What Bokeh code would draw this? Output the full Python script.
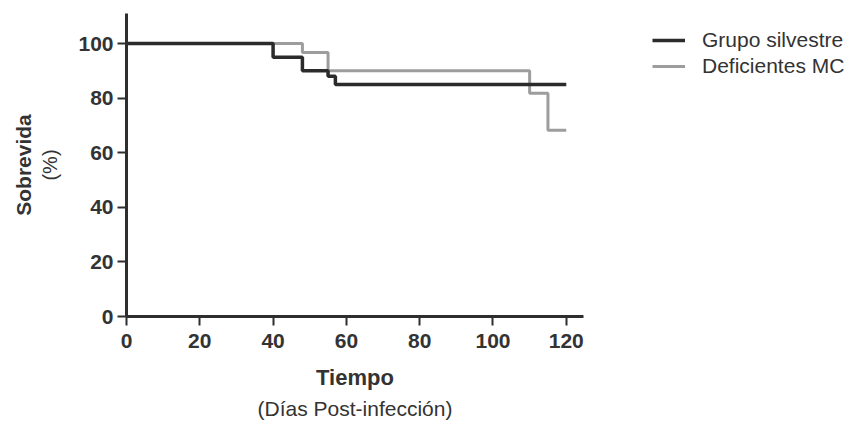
from bokeh.embed import file_html
from bokeh.layouts import row
from bokeh.models import FixedTicker, Legend, LegendItem, LinearAxis, Range1d
from bokeh.plotting import figure
from bokeh.resources import INLINE

# Kaplan-Meier survival (%) by day post-infection
silvestre_dias = [0, 40, 48, 55, 57, 120]
silvestre_sobrevida = [100, 95, 90, 88, 85, 85]

deficientes_dias = [0, 48, 55, 110, 115, 120]
deficientes_sobrevida = [100, 96.7, 90, 81.8, 68.2, 68.2]

x_ticks = [0, 20, 40, 60, 80, 100, 120]
y_ticks = [0, 20, 40, 60, 80, 100]

series_names = ["Grupo silvestre", "Deficientes MC"]
x_title = "Tiempo"
x_subtitle = "(Días Post-infección)"
y_title = "Sobrevida"
y_subtitle = "(%)"

AXIS_COLOR = "#2e2e2e"
TEXT_COLOR = "#333333"
FONT = "'Liberation Sans', Arial, sans-serif"
DARK = dict(line_color="#2b2b2b", line_width=3.5)
LIGHT = dict(line_color="#9d9d9d", line_width=3)

# ---- survival chart -------------------------------------------------------
p = figure(
    width=600,
    height=426,
    output_backend="svg",
    toolbar_location=None,
    x_range=Range1d(0, 124.7),
    y_range=Range1d(0, 111),
    min_border_left=126,
    min_border_right=17,
    min_border_top=13,
    min_border_bottom=110,
    background_fill_color="white",
    border_fill_color="white",
)
p.outline_line_color = None
p.xgrid.visible = False
p.ygrid.visible = False

for ax, ticks in ((p.xaxis, x_ticks), (p.yaxis, y_ticks)):
    ax.ticker = FixedTicker(ticks=ticks)
    ax.axis_line_width = 3
    ax.axis_line_color = AXIS_COLOR
    ax.major_tick_line_width = 2
    ax.major_tick_line_color = AXIS_COLOR
    ax.major_tick_out = 9
    ax.major_tick_in = 0
    ax.minor_tick_line_color = None
    ax.major_label_text_font = FONT
    ax.major_label_text_font_style = "bold"
    ax.major_label_text_font_size = "21px"
    ax.major_label_text_color = TEXT_COLOR
    ax.axis_label_text_font = FONT
    ax.axis_label_text_color = TEXT_COLOR

p.xaxis.major_label_standoff = 8
p.yaxis.major_label_standoff = 4

# bold "Tiempo" below the ticks, "(%)" beside the y tick labels
p.xaxis.axis_label = x_title
p.xaxis.axis_label_text_font_style = "bold"
p.xaxis.axis_label_text_font_size = "22px"
p.xaxis.axis_label_standoff = 14

p.yaxis.axis_label = y_subtitle
p.yaxis.axis_label_text_font_style = "normal"
p.yaxis.axis_label_text_font_size = "20px"
p.yaxis.axis_label_standoff = 14


def title_axis(label, size, style, standoff):
    """An axis that only carries a title line."""
    return LinearAxis(
        ticker=FixedTicker(ticks=[]),
        axis_line_color=None,
        major_tick_line_color=None,
        minor_tick_line_color=None,
        axis_label=label,
        axis_label_text_font=FONT,
        axis_label_text_font_size=size,
        axis_label_text_font_style=style,
        axis_label_text_color=TEXT_COLOR,
        axis_label_standoff=standoff,
    )


p.add_layout(title_axis(x_subtitle, "21px", "normal", 4), "below")
p.add_layout(title_axis(y_title, "21px", "bold", 2), "left")

p.step(deficientes_dias, deficientes_sobrevida, mode="after", **LIGHT)
p.step(silvestre_dias, silvestre_sobrevida, mode="after", **DARK)

# ---- legend panel ---------------------------------------------------------
# Its view range (0..1) lies below every survival value, so the curves drawn
# here stay out of sight and only serve as legend swatches.
k = figure(
    width=251,
    height=426,
    output_backend="svg",
    toolbar_location=None,
    x_range=Range1d(0, 1),
    y_range=Range1d(0, 1),
    x_axis_location=None,
    y_axis_location=None,
    min_border_left=38,
    min_border_top=13,
    min_border_right=0,
    min_border_bottom=110,
    background_fill_color="white",
    border_fill_color="white",
)
k.outline_line_color = None
k.xgrid.visible = False
k.ygrid.visible = False

sw_sil = k.step(silvestre_dias, silvestre_sobrevida, mode="after", **DARK)
sw_def = k.step(deficientes_dias, deficientes_sobrevida, mode="after", **LIGHT)

legend = Legend(
    items=[
        LegendItem(label=series_names[0], renderers=[sw_sil]),
        LegendItem(label=series_names[1], renderers=[sw_def]),
    ],
    location="top_left",
    orientation="vertical",
    glyph_width=33,
    glyph_height=26,
    label_height=26,
    label_standoff=17,
    spacing=0,
    padding=0,
    margin=14,
    border_line_color=None,
    background_fill_alpha=0,
    label_text_font=FONT,
    label_text_font_size="21px",
    label_text_color=TEXT_COLOR,
)
k.add_layout(legend)

layout = row(p, k)
open("out.html", "w").write(file_html(layout, INLINE))
